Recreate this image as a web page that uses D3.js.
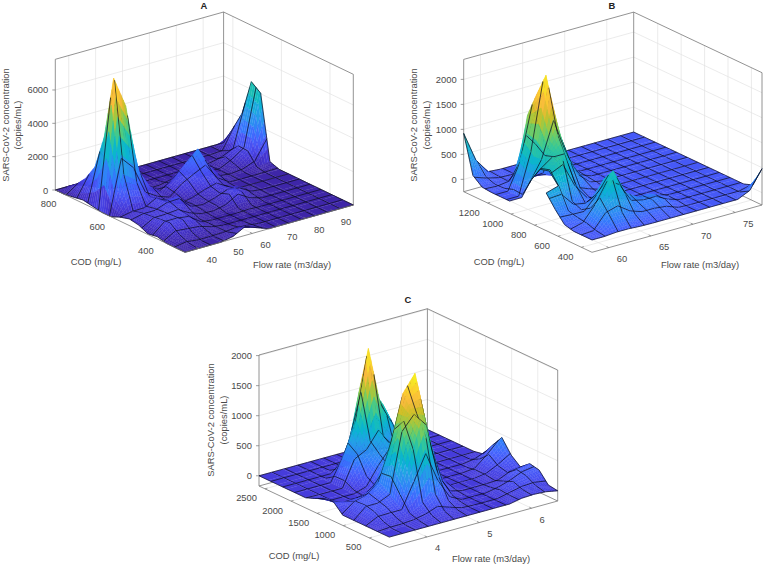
<!DOCTYPE html>
<html><head><meta charset="utf-8">
<script src="https://cdn.jsdelivr.net/npm/d3@7/dist/d3.min.js"></script>
<style>html,body{margin:0;background:#fff}svg{display:block}text{font-family:"Liberation Sans",Arial,sans-serif;fill:#4a4a4a}</style>
</head><body><svg id="c" width="764" height="565"></svg>
<script>
const flowTicksA=[40,50,60,70,80,90], codTicksA=[800,600,400], zTicksA=[0,2000,4000,6000];
const flowTicksB=[60,65,70,75], codTicksB=[1200,1000,800,600,400], zTicksB=[0,500,1000,1500,2000];
const flowTicksC=[4,5,6], codTicksC=[2500,2000,1500,1000,500], zTicksC=[0,500,1000,1500,2000];
const flowRangeA=[35,97.6], codRangeA=[838,304], zRangeA=[0,7840], colorRangeA=[0,7840];
const flowRangeB=[58,78.2], codRangeB=[1405,310], zRangeB=[-247,2400], colorRangeB=[-247,2300];
const flowRangeC=[3.28,6.5], codRangeC=[2615,118], zRangeC=[-170,2010], colorRangeC=[-170,2010];
// rows: COD from high to low; columns: flow rate from low to high
const concA=[
[0,0,0,0,0,0,0,0,0,0,0,0,0,0,0],
[0,420,100,0,0,0,0,0,0,0,0,0,0,0,1120],
[100,1040,300,0,0,0,0,0,0,0,0,0,0,300,2300],
[200,2000,1000,400,0,0,0,0,0,0,0,0,460,860,4460],
[100,4060,3000,1000,300,0,40,350,1000,0,0,0,240,840,4040],
[0,7840,5980,1940,740,200,820,1520,2180,900,100,0,0,100,200],
[0,2340,1800,600,300,100,680,1000,1280,380,0,0,0,0,0],
[240,380,400,780,300,50,200,460,660,260,0,0,0,0,0],
[400,540,540,840,940,200,100,300,520,520,100,0,0,0,0],
[300,600,620,720,420,100,50,300,900,300,0,0,0,0,0],
[40,680,680,680,80,0,0,0,60,0,0,0,0,0,0],
[140,740,740,540,100,0,0,0,0,0,0,0,0,0,0],
[0,320,220,220,100,0,0,0,0,0,0,0,0,0,0],
[0,80,0,0,50,150,100,0,0,0,0,0,0,0,0],
[0,0,0,0,140,530,260,0,0,0,0,0,0,0,0]];
const concB=[
[920,320,20,0,0,0,0,0,0,0,0,0,0,0,0],
[167,70,0,0,0,0,0,0,0,0,0,0,0,0,0],
[20,0,0,-60,-60,-60,0,0,0,0,0,0,0,0,0],
[0,0,100,1347,150,0,0,0,0,0,0,0,0,0,0],
[0,0,933,1847,1400,660,127,0,0,0,0,0,0,0,0],
[0,0,750,2313,1160,413,80,0,0,0,0,0,0,0,0],
[null,427,767,1313,700,233,40,0,0,0,0,0,0,0,0],
[null,740,913,913,180,80,0,0,0,0,0,0,0,0,0],
[null,793,1000,433,67,0,0,0,0,0,0,0,0,0,0],
[507,580,213,80,100,50,0,0,0,0,0,0,0,0,0],
[260,167,93,227,600,267,50,0,0,0,0,0,0,0,0],
[47,113,173,550,853,353,187,187,87,0,0,0,0,0,0],
[0,60,460,880,533,200,200,200,67,0,0,0,0,0,0],
[0,10,280,280,147,113,113,80,0,0,0,0,0,0,67],
[0,0,20,20,5,0,0,0,0,0,0,0,0,113,480]];
const concC=[
[0,0,0,0,0,0,0,0,0,0,0,0,0,0,0],
[0,0,0,0,0,0,0,0,0,0,0,0,0,0,0],
[0,0,0,0,0,0,0,400,300,200,0,0,0,0,0],
[0,0,0,0,0,310,1288,1300,960,516,100,0,0,0,0],
[0,0,0,0,444,944,2080,1083,700,200,0,0,0,0,0],
[0,0,0,0,461,544,813,500,200,0,0,0,0,0,0],
[60,0,0,0,100,394,672,500,100,0,0,0,0,0,30],
[133,0,0,0,0,300,500,300,0,0,0,0,0,83,250],
[150,94,94,150,400,1000,1200,600,100,0,0,0,30,240,450],
[0,167,222,390,950,1750,2030,1060,200,0,0,0,30,117,230],
[0,183,183,295,1354,1500,1400,410,60,0,0,0,0,78,105],
[0,144,150,150,816,1427,650,150,0,0,0,20,67,205,233],
[0,50,55,55,140,333,166,40,0,0,0,60,139,167,200],
[0,0,0,20,44,72,40,0,0,0,0,40,72,78,22],
[0,0,0,0,0,0,0,0,0,0,0,40,50,39,0]];
const titles=["A","B","C"];
const zLabelLines=["SARS-CoV-2 concentration","(copies/mL)"];
const codLabel="COD (mg/L)", flowLabel="Flow rate (m3/day)";
const parulaHex=["#3e26a8","#4537d5","#484df0","#4563fd","#327cfc","#2b91ef","#20a5e3","#08b5d0","#19bfb6","#37c897","#64cd6f","#9dc943","#d1bf27","#f8ba3d","#fcce2e","#f5e427","#f9fb15"];
const parula=d3.scaleLinear().domain(parulaHex.map((_,k)=>k*4/63).map(v=>Math.min(v,1))).range(parulaHex).clamp(true);

const panels=[
 {t:0,F:[185,252.3],R:[353.3,205],L:[55.3,190],H:130.7,flow:flowRangeA,cod:codRangeA,zr:zRangeA,cr:colorRangeA,gam:1,mesh:[12,13],data:concA,ft:flowTicksA,ct:codTicksA,zt:zTicksA,
  tp:[204,5],cl:[96,261],fl:[292,264],zl:[5,17,125]},
 {t:1,F:[592,252.3],R:[762,205],L:[463.7,191.7],H:132.3,flow:flowRangeB,cod:codRangeB,zr:zRangeB,cr:colorRangeB,gam:.78,mesh:[12,13],data:concB,ft:flowTicksB,ct:codTicksB,zt:zTicksB,
  tp:[612,5],cl:[499,261],fl:[700,264],zl:[413.5,426,125]},
 {t:2,F:[389.3,547.3],R:[557.7,501],L:[259,486],H:131,flow:flowRangeC,cod:codRangeC,zr:zRangeC,cr:colorRangeC,gam:1,mesh:[11,13],data:concC,ft:flowTicksC,ct:codTicksC,zt:zTicksC,
  tp:[408,299],cl:[294,555],fl:[491,558],zl:[210,223,420]}
];
const svg=d3.select("#c");
const pathOf=pts=>"M"+pts.map(p=>p[0].toFixed(2)+","+p[1].toFixed(2)).join("L");
const SUB=5, FS=9.4;

panels.forEach(p=>{
  const g=svg.append("g");
  const fx=d3.scaleLinear().domain(p.flow).range([0,1]);
  const fy=d3.scaleLinear().domain(p.cod).range([0,1]);
  const fz=d3.scaleLinear().domain(p.zr).range([0,p.H]);
  const colorOf=z=>parula(Math.pow((Math.max(p.cr[0],Math.min(p.cr[1],z))-p.cr[0])/(p.cr[1]-p.cr[0]),p.gam));
  const ex=[p.R[0]-p.F[0],p.R[1]-p.F[1]], ey=[p.F[0]-p.L[0],p.F[1]-p.L[1]];
  const proj=(x,y,z)=>{const a=fx(x),b=fy(y),h=fz(z);return [p.L[0]+ey[0]*b+ex[0]*a,p.L[1]+ey[1]*b+ex[1]*a-h];};
  const [x0,x1]=p.flow,[y0,y1]=p.cod,[z0,z1]=p.zr;
  const seg=(a,b,c,w,op)=>g.append("path").attr("d",pathOf([a,b])).attr("fill","none").attr("stroke",c).attr("stroke-width",w).attr("stroke-opacity",op||1);
  const grid="#e3e3e3", box="#777", mesh="#0c0c20", mw=.8;
  p.ft.forEach(v=>{seg(proj(v,y0,z0),proj(v,y0,z1),grid,.7);seg(proj(v,y0,z0),proj(v,y1,z0),grid,.7);});
  p.ct.forEach(v=>{seg(proj(x1,v,z0),proj(x1,v,z1),grid,.7);seg(proj(x0,v,z0),proj(x1,v,z0),grid,.7);});
  p.zt.forEach(v=>{seg(proj(x0,y0,v),proj(x1,y0,v),grid,.7);seg(proj(x1,y0,v),proj(x1,y1,v),grid,.7);});
  [[[x0,y0,z1],[x1,y0,z1]],[[x1,y0,z1],[x1,y1,z1]],[[x0,y0,z0],[x0,y0,z1]],[[x1,y0,z0],[x1,y0,z1]],[[x1,y1,z0],[x1,y1,z1]],[[x0,y0,z0],[x1,y0,z0]],[[x1,y0,z0],[x1,y1,z0]]]
    .forEach(s=>seg(proj(...s[0]),proj(...s[1]),box,.8));
  const n=p.data.length-1,m=p.data[0].length-1;
  const xv=d3.scaleLinear().domain([0,m]).range(p.flow), yv=d3.scaleLinear().domain([0,n]).range(p.cod);
  const missing=(i,j)=>{if(i<0||j<0||i>=n||j>=m)return false;return [p.data[i][j],p.data[i][j+1],p.data[i+1][j],p.data[i+1][j+1]].some(v=>v===null);};
  const [Ki,Kj]=p.mesh;
  const posI=d3.range(Ki+1).map(k=>k*n/Ki), posJ=d3.range(Kj+1).map(k=>k*m/Kj);
  const inCell=(q,c,max)=>q>=c-1e-9&&(q<c+1-1e-9||(c===max-1&&q<=max+1e-9));
  for(let i=0;i<n;i++){
    for(let j=m-1;j>=0;j--){
      if(missing(i,j))continue;
      const a=p.data[i][j],b=p.data[i][j+1],c=p.data[i+1][j],d=p.data[i+1][j+1];
      const flat=a===b&&a===c&&a===d, s=flat?1:SUB;
      const zAt=(u,v)=>(a*(1-u)*(1-v)+b*u*(1-v)+c*(1-u)*v+d*u*v);
      const P=(u,v)=>proj(xv(j+u),yv(i+v),zAt(u,v));
      for(let iv=0;iv<s;iv++)for(let iu=s-1;iu>=0;iu--){
        const u0=iu/s,u1=(iu+1)/s,v0=iv/s,v1=(iv+1)/s;
        const f=colorOf((zAt(u0,v0)+zAt(u1,v0)+zAt(u0,v1)+zAt(u1,v1))/4);
        g.append("path").attr("d",pathOf([P(u0,v0),P(u1,v0),P(u1,v1),P(u0,v1)])+"Z").attr("fill",f).attr("stroke",f).attr("stroke-width",.3);
      }
      posJ.filter(q=>inCell(q,j,m)).forEach(q=>seg(P(q-j,0),P(q-j,1),mesh,mw,.9));
      posI.filter(q=>inCell(q,i,n)).forEach(q=>seg(P(0,q-i),P(1,q-i),mesh,mw,.9));
      if(missing(i+1,j))seg(P(0,1),P(1,1),mesh,mw,.9);
      if(missing(i-1,j))seg(P(0,0),P(1,0),mesh,mw,.9);
      if(missing(i,j-1))seg(P(0,0),P(0,1),mesh,mw,.9);
      if(missing(i,j+1))seg(P(1,0),P(1,1),mesh,mw,.9);
    }
  }
  seg(proj(x0,y0,z0),proj(x0,y1,z0),box,.8);
  seg(proj(x0,y1,z0),proj(x1,y1,z0),box,.8);
  const tl=2.5;
  const ux=[ex[0]/Math.hypot(...ex),ex[1]/Math.hypot(...ex)], uy=[ey[0]/Math.hypot(...ey),ey[1]/Math.hypot(...ey)];
  const label=(x,y,s,anchor)=>g.append("text").attr("x",x).attr("y",y).attr("font-size",FS).attr("text-anchor",anchor).attr("dominant-baseline","central").text(s);
  p.ft.forEach(v=>{const q=proj(v,y1,z0);seg(q,[q[0]-uy[0]*tl,q[1]-uy[1]*tl],box,.7);label(q[0]+8,q[1]+11,v,"start");});
  p.ct.forEach(v=>{const q=proj(x0,v,z0);seg(q,[q[0]+ux[0]*tl,q[1]+ux[1]*tl],box,.7);label(q[0]-8,q[1]+9,v,"end");});
  p.zt.forEach(v=>{const q=proj(x0,y0,v);seg(q,[q[0]-3,q[1]],box,.7);label(q[0]-7,q[1],v,"end");});
  label(p.cl[0],p.cl[1],codLabel,"middle");
  label(p.fl[0],p.fl[1],flowLabel,"middle");
  zLabelLines.forEach((s,k)=>{
    g.append("text").attr("transform",`translate(${p.zl[k]},${p.zl[2]}) rotate(-90)`).attr("font-size",FS).attr("text-anchor","middle").attr("dominant-baseline","central").text(s);
  });
  g.append("text").attr("x",p.tp[0]).attr("y",p.tp[1]).attr("font-size",FS).attr("font-weight","bold").attr("text-anchor","middle").attr("dominant-baseline","central").style("fill","#222").text(titles[p.t]);
});
</script></body></html>
